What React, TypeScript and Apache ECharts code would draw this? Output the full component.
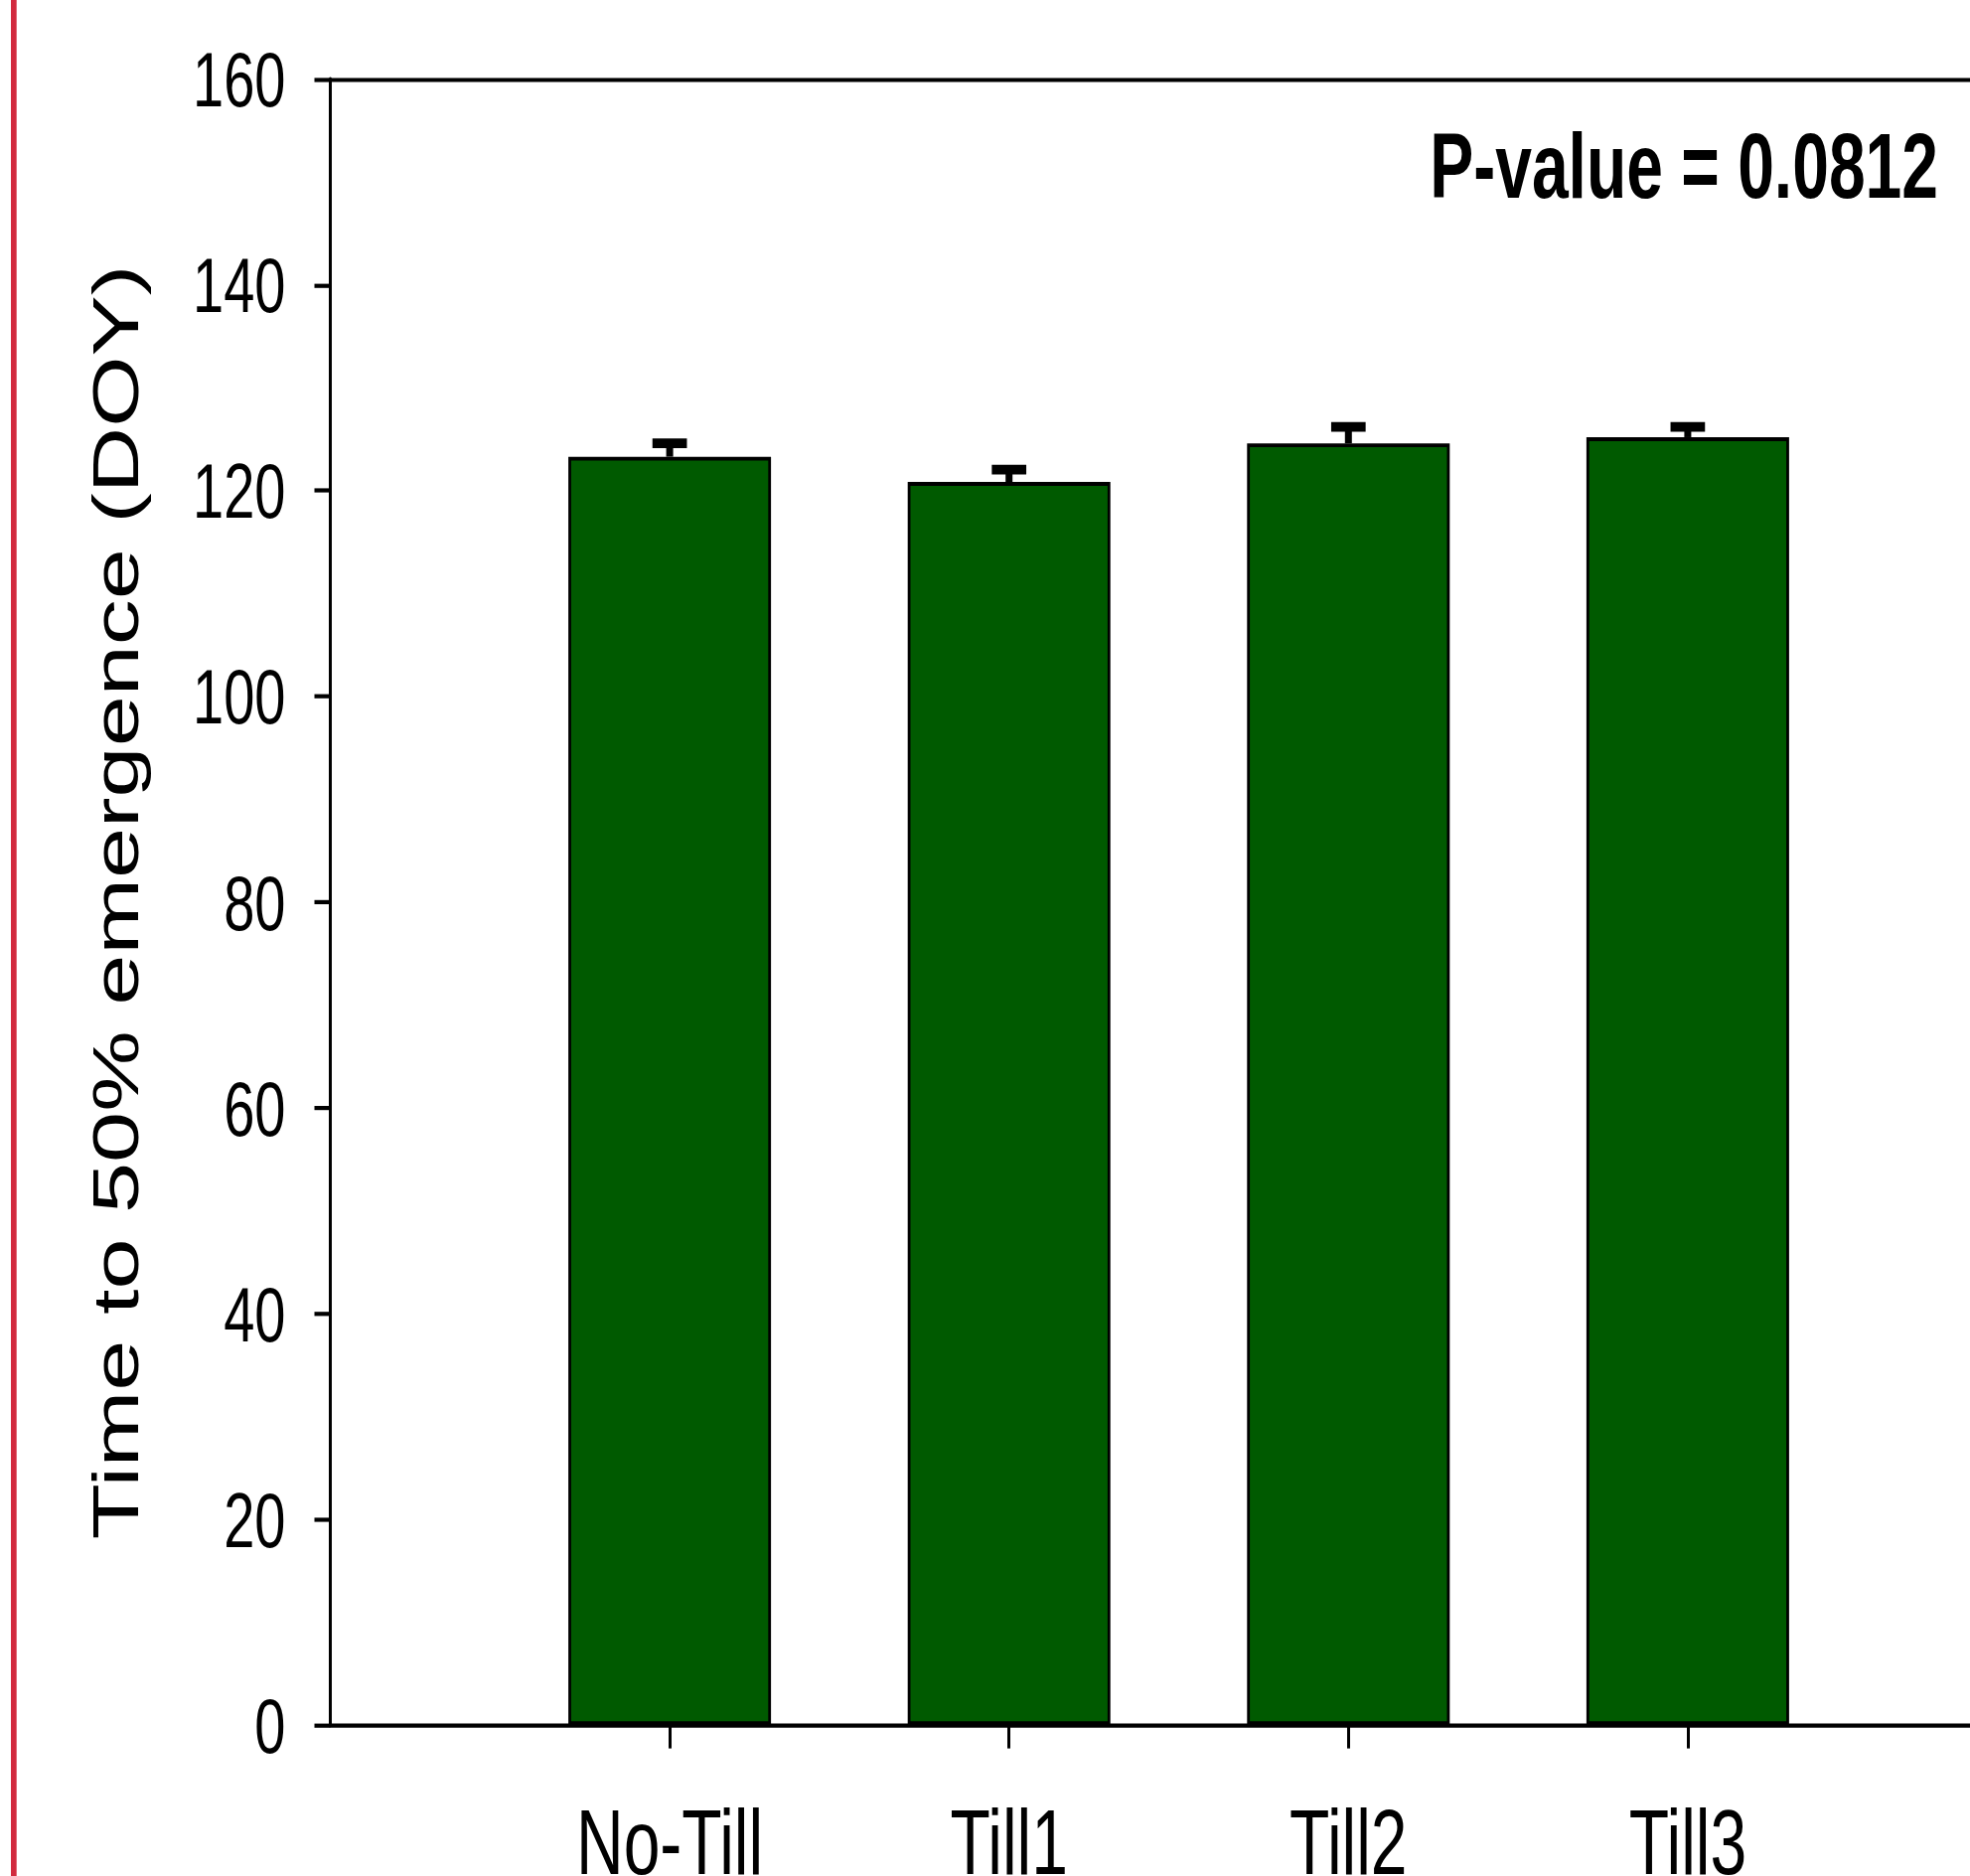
import React, { useEffect, useRef } from "react";
import * as echarts from "echarts";

// ---- data ----
const categories = ["No-Till", "Till1", "Till2", "Till3"];
const means = [123.3, 120.85, 124.6, 125.2];
const errors = [1.3, 1.2, 1.6, 1.0];
const yMin = 0;
const yMax = 160;
const yInterval = 20;
const yTitle = "Time to 50% emergence (DOY)";
const pValueText = "P-value = 0.0812";

// ---- layout (the whole figure is vertically stretched, like the reference) ----
const W = 1983;
const FULL_H = 1888;
const SY = 1.4;
const H = FULL_H / SY;
const FONT = '"Liberation Sans", Arial, Helvetica, sans-serif';

export default function App() {
  const ref = useRef<HTMLDivElement>(null);

  useEffect(() => {
    document.body.style.margin = "0";
    if (!ref.current) return;
    const chart = echarts.init(ref.current, null, { renderer: "svg" });

    const axisCats = ["", ...categories, ""];
    const barData = [null, ...means, null];
    const errData = categories.map((_, i) => [i + 1, means[i], means[i] + errors[i]]);

    const option: any = {
      animation: false,
      backgroundColor: "#ffffff",
      textStyle: { fontFamily: FONT, color: "#000" },
      grid: {
        left: 332.5,
        right: -57.5,
        top: 56.93,
        bottom: 108.93,
        containLabel: false,
        outerBoundsMode: "none",
      },
      xAxis: [
        {
          type: "category",
          data: axisCats,
          boundaryGap: false,
          axisLine: { show: true, lineStyle: { color: "#000", width: 3 } },
          axisTick: {
            show: true,
            length: 16.8,
            interval: (index: number) => index >= 1 && index <= categories.length,
            lineStyle: { color: "#000", width: 3 },
          },
          axisLabel: {
            interval: 0,
            margin: 51,
            fontSize: 66,
            fontFamily: FONT,
            color: "#000",
          },
          splitLine: { show: false },
        },
        {
          type: "category",
          position: "top",
          data: axisCats,
          boundaryGap: false,
          axisLine: { show: true, lineStyle: { color: "#000", width: 3 } },
          axisTick: { show: false },
          axisLabel: { show: false },
          splitLine: { show: false },
        },
      ],
      yAxis: {
        type: "value",
        min: yMin,
        max: yMax,
        interval: yInterval,
        name: yTitle,
        nameLocation: "middle",
        nameRotate: 90,
        nameGap: 183,
        nameTextStyle: { fontSize: 65.6, fontFamily: FONT, color: "#000" },
        axisLine: { show: true, lineStyle: { color: "#000", width: 3 } },
        axisTick: { show: true, length: 16, lineStyle: { color: "#000", width: 3 } },
        axisLabel: { margin: 45, fontSize: 56, fontFamily: FONT, color: "#000" },
        splitLine: { show: false },
      },
      series: [
        {
          type: "bar",
          xAxisIndex: 0,
          data: barData,
          barWidth: 204,
          silent: true,
          itemStyle: { color: "#005a00", borderColor: "#000", borderWidth: 2.8 },
          z: 2,
        },
        {
          type: "custom",
          xAxisIndex: 0,
          silent: true,
          data: errData,
          encode: { x: 0, y: [1, 2] },
          z: 3,
          renderItem: (params: any, api: any) => {
            const idx = api.value(0);
            const p0 = api.coord([idx, api.value(1)]);
            const p1 = api.coord([idx, api.value(2)]);
            const half = 17.35;
            return {
              type: "group",
              children: [
                {
                  type: "line",
                  shape: { x1: p0[0], y1: p0[1], x2: p1[0], y2: p1[1] },
                  style: { stroke: "#000", lineWidth: 7 },
                },
                {
                  type: "line",
                  shape: { x1: p1[0] - half, y1: p1[1], x2: p1[0] + half, y2: p1[1] },
                  style: { stroke: "#000", lineWidth: 7 },
                },
              ],
            };
          },
        },
      ],
      graphic: [
        {
          type: "rect",
          silent: true,
          shape: { x: 11, y: 0, width: 5.7, height: H },
          style: { fill: "#d22a3e" },
        },
        {
          type: "text",
          silent: true,
          x: 1951,
          y: 119,
          style: {
            text: pValueText,
            fill: "#000",
            font: `bold 66px ${FONT}`,
            textAlign: "right",
            textVerticalAlign: "middle",
            align: "right",
            verticalAlign: "middle",
          },
        },
      ],
    };

    chart.setOption(option);
    return () => chart.dispose();
  }, []);

  return (
    <div
      style={{
        width: W,
        height: FULL_H,
        overflow: "hidden",
        position: "relative",
        background: "#fff",
      }}
    >
      <div
        ref={ref}
        style={{
          position: "absolute",
          left: 0,
          top: 0,
          width: W,
          height: H,
          transform: `scaleY(${SY})`,
          transformOrigin: "0 0",
        }}
      />
    </div>
  );
}
